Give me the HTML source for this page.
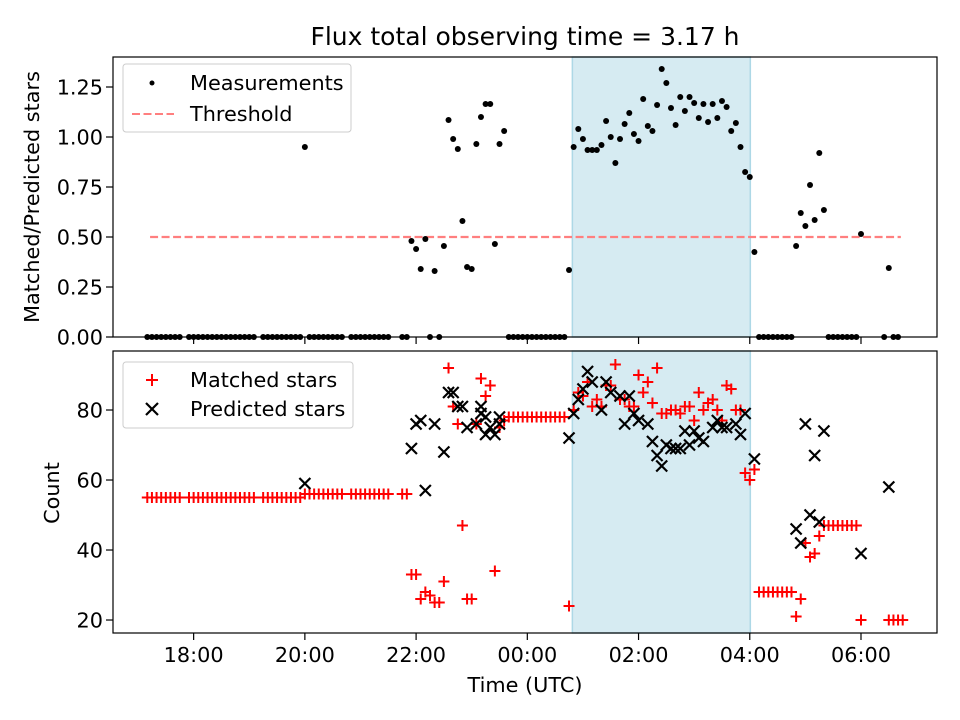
<!DOCTYPE html>
<html><head><meta charset="utf-8"><style>
body{margin:0;background:#fff;}
svg{display:block;font-family:"DejaVu Sans","Liberation Sans",sans-serif;}
</style></head><body>
<svg id="fig" width="960" height="720" viewBox="0 0 960 720"></svg>
<script>
// ---- data (time in minutes relative to 00:00 UTC) ----
const measTimes = [-410,-405,-400,-395,-390,-385,-380,-375,-365,-360,-355,-350,-345,-340,-335,-330,-325,-320,-315,-310,-305,-300,-295,-285,-280,-275,-270,-265,-260,-255,-250,-245,
-240,-235,-230,-225,-220,-215,-210,-205,-200,-190,-185,-180,-175,-170,-165,-160,-155,-150,-135,-130,-125,-120,-115,-110,-105,-100,-95,-90,-85,-80,-75,-70,-65,-60,-55,-50,-45,-40,-35,-30,-25,
-20,-15,-10,-5,0,5,10,15,20,25,30,35,40,45,50,55,60,65,70,75,80,85,90,95,100,105,110,115,120,125,130,135,140,145,150,155,160,165,170,175,180,185,190,195,200,205,210,215,220,225,230,235,240,245,
250,255,260,265,270,275,280,285,290,295,300,305,310,315,320,325,330,335,340,345,350,355,360,385,390,395,400];
const measValues = [0,0,0,0,0,0,0,0,0,0,0,0,0,0,0,0,0,0,0,0,0,0,0,0,0,0,0,0,0,0,0,0,
0.95,0,0,0,0,0,0,0,0,0,0,0,0,0,0,0,0,0,0,0,0.48,0.44,0.34,0.49,0,0.33,0,0.455,1.085,0.99,0.94,0.58,0.35,0.34,0.965,1.10,1.165,1.165,0.465,0.965,1.03,
0,0,0,0,0,0,0,0,0,0,0,0,0,0.335,0.95,1.04,0.99,0.935,0.935,0.935,0.96,1.08,1.0,0.87,0.99,1.065,1.12,1.015,0.98,1.19,1.055,1.03,1.16,1.34,1.27,1.145,1.06,1.2,1.13,1.2,1.17,1.095,1.165,1.075,1.165,1.095,1.18,1.15,1.03,1.07,0.95,0.825,0.80,0.425,
0,0,0,0,0,0,0,0,0.455,0.62,0.555,0.76,0.585,0.92,0.635,0,0,0,0,0,0,0,0.515,0,0.345,0,0];
const threshold = 0.5;
const matchedTimes = [-410,-405,-400,-395,-390,-385,-380,-375,-365,-360,-355,-350,-345,-340,-335,-330,-325,-320,-315,-310,-305,-300,-295,-285,-280,-275,-270,-265,-260,-255,-250,-245,
-240,-235,-230,-225,-220,-215,-210,-205,-200,-190,-185,-180,-175,-170,-165,-160,-155,-150,-135,-130,
-125,-120,-115,-110,-105,-100,-95,-90,-85,-80,-75,-70,-65,-60,-55,-50,-45,-40,-35,-30,-25,
-20,-15,-10,-5,0,5,10,15,20,25,30,35,40,45,50,55,60,65,70,75,80,85,90,95,100,105,110,115,120,125,130,135,140,145,150,155,160,165,170,175,180,185,190,195,200,205,210,215,220,225,230,235,240,245,
250,255,260,265,270,275,280,285,290,295,300,305,310,315,320,325,330,335,340,345,350,355,360,390,395,400,405];
const matchedValues = [55,55,55,55,55,55,55,55,55,55,55,55,55,55,55,55,55,55,55,55,55,55,55,55,55,55,55,55,55,55,55,55,
56,56,56,56,56,56,56,56,56,56,56,56,56,56,56,56,56,56,56,56,
33,33,26,28,27,25,25,31,92,81,76,47,26,26,76,89,84,87,34,75,77,
78,78,78,78,78,78,78,78,78,78,78,78,78,24,80,85,84,88,81,83,81,87,87,93,83,83,81,81,90,85,88,82,92,79,79,80,80,79,81,81,77,85,80,82,83,80,77,87,86,80,80,62,60,63,
28,28,28,28,28,28,28,28,21,26,42,38,39,44,47,47,47,47,47,47,47,47,20,20,20,20,20];
const predTimes = [-240,-125,-120,-115,-110,-100,-90,-85,-80,-75,-70,-65,-55,-50,-50,-45,-45,-40,-35,-30,-30,
45,50,55,60,65,70,80,85,90,100,105,110,115,120,130,135,140,145,150,155,160,165,170,175,180,185,190,200,205,210,215,225,230,235,
245,290,295,300,305,310,315,320,360,390];
const predValues = [59,69,76,77,57,76,68,85,85,81,81,75,76,79,81,78,73,75,73,78,76,
72,79,83,86,91,88,80,88,85,84,76,84,79,77,76,71,67,64,70,69,69,69,74,70,74,72,71,75,77,75,75,76,73,79,
66,46,42,76,50,67,48,74,39,58];
const xTicks = [-360,-240,-120,0,120,240,360];
const xTickLabels = ["18:00","20:00","22:00","00:00","02:00","04:00","06:00"];
const topYTicks = [0,0.25,0.5,0.75,1.0,1.25];
const topYTickLabels = ["0.00","0.25","0.50","0.75","1.00","1.25"];
const botYTicks = [20,40,60,80];
const botYTickLabels = ["20","40","60","80"];
const shadeStart = 48.6, shadeEnd = 240.6;
const threshStart = -407, threshEnd = 403;

// ---- axes ----
const L=113,R=937, T1=57,B1=337, T2=351,B2=633;
const xMin=-447, xMax=442;
const X = t => L + (t-xMin)/(xMax-xMin)*(R-L);
const Y1 = v => B1 - (v-0)/(1.4-0)*(B1-T1);
const Y2 = v => B2 - (v-16.29)/(96.86-16.29)*(B2-T2);
const NS="http://www.w3.org/2000/svg";
const svg=document.getElementById('fig');
function mk(tag,attrs,parent){const e=document.createElementNS(NS,tag);for(const k in attrs)e.setAttribute(k,attrs[k]);(parent||svg).appendChild(e);return e;}

function panel(name){
  const g=mk('g',{});
  
  
  return g;
}
const gTop=panel('top-panel');
const gBot=panel('bottom-panel');

for(const [g,T,B] of [[gTop,T1,B1],[gBot,T2,B2]]){
  const r=mk('rect',{x:X(shadeStart),y:T,width:X(shadeEnd)-X(shadeStart),height:B-T,fill:'#add8e6','fill-opacity':0.5,stroke:'#add8e6','stroke-width':1.5},g);
  
  
}
const th=mk('line',{x1:X(threshStart),x2:X(threshEnd),y1:Y1(threshold),y2:Y1(threshold),stroke:'#ff7f7f','stroke-width':2.2,'stroke-dasharray':'8,3.5'},gTop);


measTimes.forEach((t,i)=>{
  const c=mk('circle',{cx:X(t),cy:Y1(measValues[i]),r:3,fill:'#000'},gTop);
  
  
});
matchedTimes.forEach((t,i)=>{
  const x=X(t),y=Y2(matchedValues[i]);
  const p=mk('path',{d:`M${x-5.5},${y}H${x+5.5}M${x},${y-5.5}V${y+5.5}`,stroke:'#ff0000','stroke-width':2},gBot);
  
  
});
predTimes.forEach((t,i)=>{
  const x=X(t),y=Y2(predValues[i]),s=5.5;
  const p=mk('path',{d:`M${x-s},${y-s}L${x+s},${y+s}M${x-s},${y+s}L${x+s},${y-s}`,stroke:'#000','stroke-width':2.2},gBot);
  
  
});

function frame(g,T,B,yt,ylab,Yf,showX){
  mk('rect',{x:L,y:T,width:R-L,height:B-T,fill:'none',stroke:'#000','stroke-width':1.2},g);
  xTicks.forEach((t,i)=>{
    mk('line',{x1:X(t),x2:X(t),y1:B,y2:B+7,stroke:'#000','stroke-width':1.2},g);
    if(showX){const tx=mk('text',{x:X(t),y:B+29,'text-anchor':'middle','font-size':20.8},g);tx.textContent=xTickLabels[i];
      
      }
  });
  yt.forEach((v,i)=>{
    mk('line',{x1:L-7,x2:L,y1:Yf(v),y2:Yf(v),stroke:'#000','stroke-width':1.2},g);
    const tx=mk('text',{x:L-10,y:Yf(v)+7.5,'text-anchor':'end','font-size':20.8},g);tx.textContent=ylab[i];
    
    
  });
}
frame(gTop,T1,B1,topYTicks,topYTickLabels,Y1,false);
frame(gBot,T2,B2,botYTicks,botYTickLabels,Y2,true);
</script>
<div style="position:absolute;left:0;top:0;width:960px;height:720px;pointer-events:none">
<svg width="960" height="720" style="font-family:'DejaVu Sans','Liberation Sans',sans-serif">
  <text x="525" y="45" text-anchor="middle" font-size="25">Flux total observing time = 3.17 h</text>
  <text x="525" y="692" text-anchor="middle" font-size="20.8">Time (UTC)</text>
  <text transform="translate(39,197) rotate(-90)" text-anchor="middle" font-size="20.8">Matched/Predicted stars</text>
  <text transform="translate(59,493) rotate(-90)" text-anchor="middle" font-size="20.8">Count</text>
  <g>
    <rect x="123" y="64" width="228" height="68" rx="3" fill="#fff" fill-opacity="0.85" stroke="#ccc"/>
    <circle cx="152" cy="83" r="2.5" fill="#000"/>
    <text x="190" y="90" font-size="20.8">Measurements</text>
    <line x1="132" x2="174" y1="114" y2="114" stroke="#ff7f7f" stroke-width="2" stroke-dasharray="8,3.5"/>
    <text x="190" y="121" font-size="20.8">Threshold</text>
  </g>
  <g>
    <rect x="123" y="362" width="230" height="66" rx="3" fill="#fff" fill-opacity="0.85" stroke="#ccc"/>
    <path d="M146,380H158M152,374V386" stroke="#f00" stroke-width="2"/>
    <text x="190" y="387" font-size="20.8">Matched stars</text>
    <path d="M146,403L158,415M146,415L158,403" stroke="#000" stroke-width="2.2"/>
    <text x="190" y="416" font-size="20.8">Predicted stars</text>
  </g>
</svg>
</div>
</body></html>
